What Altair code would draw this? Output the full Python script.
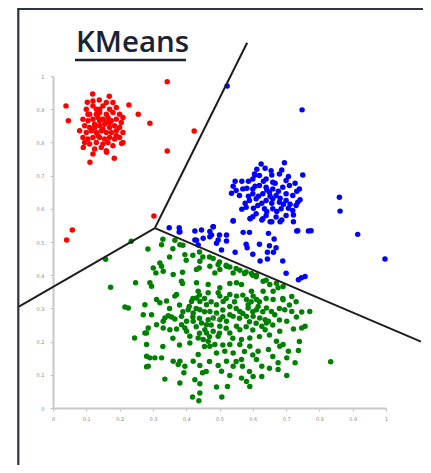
import altair as alt
import pandas as pd

# ---- data ----
red_pts = [
    (0.039, 0.910), (0.046, 0.865), (0.119, 0.946), (0.103, 0.921), (0.139, 0.928),
    (0.169, 0.939), (0.228, 0.913), (0.256, 0.885), (0.291, 0.858), (0.343, 0.983),
    (0.424, 0.834), (0.343, 0.774), (0.111, 0.740), (0.184, 0.752), (0.161, 0.770),
    (0.091, 0.785), (0.206, 0.797), (0.303, 0.578), (0.058, 0.536), (0.041, 0.506),
    (0.10, 0.90), (0.12, 0.91), (0.13, 0.90), (0.15, 0.91), (0.17, 0.90), (0.19, 0.905),
    (0.11, 0.885), (0.13, 0.885), (0.14, 0.89), (0.16, 0.885), (0.18, 0.89), (0.20, 0.885),
    (0.21, 0.875), (0.09, 0.87), (0.105, 0.865), (0.12, 0.87), (0.135, 0.875), (0.15, 0.87),
    (0.165, 0.875), (0.175, 0.865), (0.19, 0.87), (0.205, 0.86), (0.095, 0.85), (0.11, 0.845),
    (0.125, 0.855), (0.14, 0.85), (0.155, 0.855), (0.17, 0.845), (0.185, 0.85), (0.20, 0.845),
    (0.08, 0.835), (0.10, 0.83), (0.115, 0.835), (0.13, 0.83), (0.145, 0.835), (0.16, 0.83),
    (0.175, 0.83), (0.19, 0.835), (0.21, 0.83), (0.09, 0.815), (0.105, 0.81), (0.12, 0.815),
    (0.14, 0.815), (0.155, 0.81), (0.17, 0.815), (0.185, 0.81), (0.20, 0.815), (0.11, 0.795),
    (0.13, 0.80), (0.15, 0.795), (0.165, 0.80), (0.18, 0.79), (0.095, 0.80), (0.125, 0.78),
    (0.145, 0.785), (0.16, 0.775), (0.12, 0.765), (0.14, 0.90), (0.16, 0.92), (0.12, 0.925),
    (0.18, 0.92), (0.105, 0.885), (0.14, 0.865), (0.16, 0.86), (0.125, 0.845), (0.17, 0.86),
    (0.135, 0.82), (0.19, 0.82), (0.21, 0.80), (0.15, 0.84),
]

blue_pts = [
    (0.523, 0.970), (0.748, 0.898), (0.860, 0.635), (0.862, 0.593), (0.915, 0.523),
    (0.997, 0.449), (0.775, 0.534), (0.735, 0.534),
    (0.349, 0.543), (0.379, 0.543), (0.379, 0.530), (0.426, 0.533), (0.446, 0.536),
    (0.481, 0.546), (0.476, 0.521), (0.496, 0.506), (0.521, 0.503), (0.506, 0.476),
    (0.451, 0.511), (0.436, 0.491), (0.471, 0.516), (0.491, 0.496), (0.541, 0.563),
    (0.592, 0.570), (0.571, 0.529), (0.590, 0.529), (0.547, 0.469), (0.580, 0.493),
    (0.583, 0.483), (0.620, 0.493), (0.647, 0.526), (0.664, 0.509), (0.650, 0.489),
    (0.644, 0.469), (0.600, 0.463), (0.622, 0.443), (0.644, 0.449), (0.662, 0.469),
    (0.690, 0.443), (0.670, 0.483), (0.732, 0.533), (0.767, 0.533), (0.700, 0.406),
    (0.737, 0.386), (0.746, 0.392), (0.757, 0.396), (0.652, 0.561), (0.687, 0.566),
    (0.722, 0.561), (0.600, 0.576), (0.630, 0.570), (0.426, 0.506), (0.521, 0.521),
    (0.500, 0.521), (0.381, 0.531), (0.431, 0.505), (0.471, 0.532),
    (0.695, 0.739), (0.687, 0.717), (0.637, 0.722), (0.612, 0.719), (0.607, 0.702),
    (0.657, 0.702), (0.707, 0.697), (0.750, 0.702), (0.727, 0.677), (0.632, 0.683),
    (0.667, 0.677), (0.547, 0.683), (0.567, 0.683), (0.587, 0.683), (0.541, 0.668),
    (0.536, 0.647), (0.582, 0.662), (0.607, 0.668), (0.642, 0.657), (0.677, 0.653),
    (0.732, 0.653), (0.587, 0.638), (0.617, 0.638), (0.652, 0.638), (0.682, 0.632),
    (0.712, 0.614), (0.742, 0.627), (0.577, 0.617), (0.627, 0.617), (0.657, 0.617),
    (0.692, 0.614), (0.567, 0.599), (0.602, 0.602), (0.642, 0.592), (0.672, 0.592),
    (0.707, 0.602), (0.722, 0.581), (0.592, 0.571), (0.627, 0.566), (0.657, 0.561),
    (0.682, 0.561), (0.541, 0.564), (0.481, 0.546),
    (0.62, 0.70), (0.64, 0.69), (0.66, 0.68), (0.60, 0.66), (0.62, 0.67), (0.64, 0.665),
    (0.66, 0.66), (0.69, 0.665), (0.71, 0.67), (0.60, 0.645), (0.63, 0.645), (0.65, 0.65),
    (0.67, 0.64), (0.70, 0.645), (0.72, 0.64), (0.59, 0.625), (0.61, 0.63), (0.64, 0.625),
    (0.66, 0.63), (0.68, 0.62), (0.70, 0.625), (0.73, 0.61), (0.58, 0.605), (0.615, 0.61),
    (0.635, 0.60), (0.66, 0.60), (0.685, 0.60), (0.72, 0.595), (0.61, 0.585), (0.64, 0.58),
    (0.67, 0.575), (0.70, 0.58), (0.55, 0.655), (0.56, 0.64), (0.57, 0.66), (0.60, 0.69),
    (0.655, 0.715), (0.68, 0.705), (0.625, 0.735), (0.70, 0.685), (0.74, 0.66),
    (0.735, 0.62), (0.605, 0.705),
]

green_pts = [
    (0.235, 0.502), (0.330, 0.508), (0.326, 0.492), (0.366, 0.505), (0.285, 0.479),
    (0.158, 0.448), (0.381, 0.492), (0.396, 0.462), (0.321, 0.437), (0.301, 0.422),
    (0.326, 0.427), (0.331, 0.412), (0.309, 0.407), (0.361, 0.402), (0.389, 0.409),
    (0.441, 0.442), (0.439, 0.422), (0.431, 0.417), (0.471, 0.427), (0.481, 0.450),
    (0.496, 0.432), (0.486, 0.407), (0.501, 0.417), (0.521, 0.427), (0.531, 0.425),
    (0.541, 0.407), (0.561, 0.415), (0.576, 0.407), (0.596, 0.405), (0.611, 0.400),
    (0.631, 0.382), (0.651, 0.372), (0.671, 0.376), (0.691, 0.366), (0.676, 0.362),
    (0.661, 0.352), (0.631, 0.352), (0.596, 0.352), (0.566, 0.372), (0.551, 0.377),
    (0.531, 0.375), (0.501, 0.362), (0.496, 0.347), (0.466, 0.372), (0.466, 0.347),
    (0.431, 0.377), (0.436, 0.352), (0.386, 0.382), (0.389, 0.375), (0.371, 0.342),
    (0.366, 0.337), (0.341, 0.322), (0.311, 0.327), (0.321, 0.317), (0.248, 0.377),
    (0.173, 0.364), (0.291, 0.377), (0.296, 0.367), (0.216, 0.304), (0.226, 0.301),
    (0.271, 0.281), (0.296, 0.281), (0.336, 0.271), (0.346, 0.278), (0.356, 0.274),
    (0.366, 0.268), (0.331, 0.261), (0.311, 0.251), (0.286, 0.241), (0.281, 0.226),
    (0.276, 0.226), (0.331, 0.241), (0.351, 0.236), (0.371, 0.238), (0.386, 0.251),
    (0.396, 0.241), (0.401, 0.231), (0.406, 0.296), (0.409, 0.306), (0.416, 0.321),
    (0.431, 0.331), (0.441, 0.321), (0.441, 0.296), (0.421, 0.261), (0.446, 0.256),
    (0.456, 0.236), (0.466, 0.266), (0.481, 0.271), (0.501, 0.266), (0.521, 0.261),
    (0.541, 0.276), (0.561, 0.291), (0.581, 0.276), (0.586, 0.301), (0.601, 0.276),
    (0.611, 0.296), (0.621, 0.271), (0.637, 0.266), (0.641, 0.256), (0.647, 0.261),
    (0.627, 0.246), (0.637, 0.236), (0.696, 0.296), (0.702, 0.261), (0.717, 0.291),
    (0.717, 0.336), (0.691, 0.326), (0.731, 0.274), (0.747, 0.289), (0.771, 0.291),
    (0.747, 0.241), (0.757, 0.246), (0.722, 0.238), (0.681, 0.231), (0.245, 0.211),
    (0.281, 0.191), (0.411, 0.216), (0.411, 0.196), (0.436, 0.211), (0.451, 0.206),
    (0.466, 0.201), (0.471, 0.186), (0.486, 0.191), (0.491, 0.166), (0.496, 0.216),
    (0.516, 0.171), (0.541, 0.166), (0.561, 0.236), (0.566, 0.206), (0.591, 0.211),
    (0.591, 0.186), (0.647, 0.176), (0.671, 0.201), (0.681, 0.186), (0.691, 0.191),
    (0.702, 0.151), (0.707, 0.171), (0.727, 0.136), (0.737, 0.173), (0.281, 0.156),
    (0.291, 0.151), (0.306, 0.151), (0.326, 0.151), (0.286, 0.126), (0.281, 0.124),
    (0.381, 0.141), (0.376, 0.131), (0.396, 0.126), (0.393, 0.106), (0.436, 0.161),
    (0.421, 0.141), (0.441, 0.128), (0.449, 0.106), (0.496, 0.128), (0.506, 0.111),
    (0.521, 0.141), (0.531, 0.098), (0.541, 0.126), (0.566, 0.146), (0.569, 0.126),
    (0.566, 0.090), (0.581, 0.080), (0.591, 0.065), (0.601, 0.095), (0.611, 0.146),
    (0.627, 0.126), (0.627, 0.095), (0.676, 0.136), (0.676, 0.116), (0.702, 0.098),
    (0.834, 0.139), (0.336, 0.087), (0.381, 0.075), (0.426, 0.085), (0.441, 0.073),
    (0.491, 0.063), (0.524, 0.065), (0.419, 0.033), (0.441, 0.045), (0.438, 0.022),
    (0.507, 0.033), (0.551, 0.337), (0.601, 0.337), (0.581, 0.327), (0.611, 0.327),
    (0.616, 0.306), (0.586, 0.311), (0.531, 0.342), (0.501, 0.337), (0.511, 0.321),
    (0.491, 0.311), (0.461, 0.311), (0.471, 0.291), (0.531, 0.306), (0.531, 0.281),
    (0.491, 0.286), (0.501, 0.246), (0.551, 0.246), (0.461, 0.226), (0.531, 0.226),
    (0.481, 0.231), (0.661, 0.327), (0.641, 0.301), (0.656, 0.291), (0.666, 0.281),
    (0.386, 0.276), (0.401, 0.261), (0.421, 0.286), (0.461, 0.251), (0.561, 0.191),
    (0.531, 0.191), (0.616, 0.171), (0.361, 0.141), (0.276, 0.311),
    (0.47, 0.455), (0.50, 0.44), (0.52, 0.43), (0.55, 0.42), (0.58, 0.41), (0.61, 0.395),
    (0.64, 0.385), (0.575, 0.405), (0.60, 0.40), (0.44, 0.47), (0.45, 0.455), (0.42, 0.46),
    (0.39, 0.49), (0.36, 0.48), (0.35, 0.455), (0.40, 0.445),
    (0.42, 0.33), (0.44, 0.34), (0.455, 0.33), (0.475, 0.32), (0.52, 0.33), (0.545, 0.32),
    (0.57, 0.34), (0.595, 0.32), (0.62, 0.32), (0.64, 0.33), (0.43, 0.30), (0.455, 0.29),
    (0.51, 0.295), (0.55, 0.30), (0.57, 0.285), (0.60, 0.29), (0.63, 0.29), (0.42, 0.275),
    (0.44, 0.27), (0.51, 0.275), (0.56, 0.27), (0.59, 0.26), (0.61, 0.255), (0.43, 0.245),
    (0.475, 0.25), (0.52, 0.24), (0.58, 0.245), (0.60, 0.235), (0.44, 0.225), (0.50, 0.225),
    (0.54, 0.21), (0.62, 0.215), (0.65, 0.22), (0.47, 0.215), (0.455, 0.185), (0.51, 0.19),
    (0.575, 0.17), (0.60, 0.16), (0.66, 0.155), (0.35, 0.30), (0.38, 0.31), (0.39, 0.29),
    (0.36, 0.21), (0.38, 0.19), (0.33, 0.185), (0.47, 0.14), (0.55, 0.14), (0.65, 0.12),
    (0.46, 0.11), (0.59, 0.11), (0.69, 0.33), (0.71, 0.31), (0.73, 0.32), (0.68, 0.30),
    (0.74, 0.20), (0.66, 0.25), (0.68, 0.265),
]

centroid = [(0.489, 0.273)]

# Voronoi boundary segments (junction -> edge)
seg_x1 = [0.306, 0.306, 0.306]
seg_y1 = [0.542, 0.542, 0.542]
seg_x2 = [0.583, -0.105, 1.105]
seg_y2 = [1.100, 0.304, 0.200]

tick_values = [0, 0.1, 0.2, 0.3, 0.4, 0.5, 0.6, 0.7, 0.8, 0.9, 1]

cluster_names = ["red", "blue", "green"]
cluster_colors = ["#ff0000", "#0000ff", "#008000"]

rows = []
for name, pts in zip(cluster_names, [red_pts, blue_pts, green_pts]):
    for x, y in pts:
        rows.append({"x": x, "y": y, "cluster": name})
points_df = pd.DataFrame(rows)
seg_df = pd.DataFrame({"x": seg_x1, "y": seg_y1, "x2": seg_x2, "y2": seg_y2})
cent_df = pd.DataFrame(centroid, columns=["x", "y"])

xscale = alt.Scale(domain=[0, 1], nice=False, zero=False)
yscale = alt.Scale(domain=[0, 1], nice=False, zero=False)

axis_common = dict(
    values=tick_values,
    grid=False,
    labelFontSize=5,
    labelColor="#8a8a8a",
    labelFont="DejaVu Sans",
    labelOverlap=False,
    labelBound=False,
    labelFlush=False,
    tickColor="#c8c8c8",
    tickSize=3,
    tickWidth=1.2,
    domainColor="#c8c8c8",
    domainWidth=2,
    title=None,
    labelExpr="datum.value == 0 ? '0' : datum.value == 1 ? '1' : format(datum.value, '.1f')",
)
x_axis = alt.Axis(labelPadding=5, **axis_common)
y_axis = alt.Axis(labelPadding=6, **axis_common)


def X(field="x:Q"):
    return alt.X(field, scale=xscale, axis=x_axis)


def Y(field="y:Q"):
    return alt.Y(field, scale=yscale, axis=y_axis)


pts = alt.Chart(points_df).mark_circle(size=30, opacity=1).encode(
    x=X(), y=Y(),
    color=alt.Color("cluster:N", scale=alt.Scale(domain=cluster_names, range=cluster_colors), legend=None),
)

cent = alt.Chart(cent_df).mark_point(size=45, filled=False, color="#7a9a7a", strokeWidth=1).encode(
    x=X(), y=Y()
)

segs = alt.Chart(seg_df).mark_rule(color="#1e1e1e", strokeWidth=2).encode(
    x=X(), y=Y(), x2="x2:Q", y2="y2:Q"
)

one = alt.Data(values=[{"t": "KMeans"}])

title = alt.Chart(one).mark_text(
    align="left", baseline="alphabetic", fontSize=29.5, font="Open Sans",
    fontWeight=600, color="#1b2333"
).encode(x=alt.value(23), y=alt.value(-24.5), text="t:N")

underline = alt.Chart(one).mark_rule(color="#1b2333", strokeWidth=2.5).encode(
    x=alt.value(22), x2=alt.value(133), y=alt.value(-16)
)

frame_left = alt.Chart(one).mark_rule(color="#2b3447", strokeWidth=2.2).encode(
    x=alt.value(-34.7), y=alt.value(-67), y2=alt.value(400)
)
frame_top = alt.Chart(one).mark_rule(color="#2b3447", strokeWidth=2.2).encode(
    x=alt.value(-35.8), x2=alt.value(400), y=alt.value(-67)
)

chart = alt.layer(pts, segs, cent, title, underline, frame_left, frame_top).properties(
    width=333,
    height=332,
    autosize=alt.AutoSizeParams(type="none"),
    padding={"left": 45, "top": 68, "right": 37, "bottom": 57},
    background="white",
).configure_view(stroke=None).configure_axis(labelOverlap=False)

chart.save("out.html", embed_options={"renderer": "svg", "actions": False})
